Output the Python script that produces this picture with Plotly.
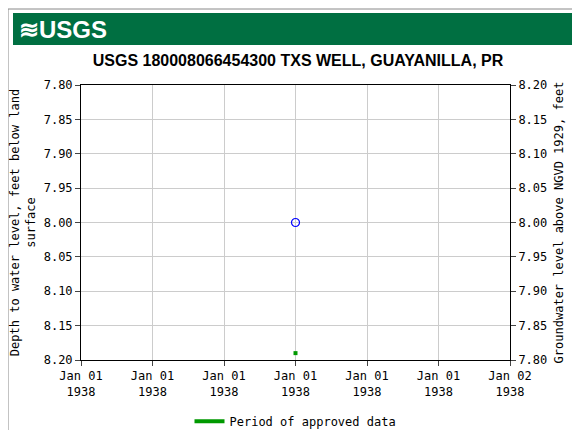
import plotly.graph_objects as go

obs_dates = ["1938-01-01 12:00"]
obs_depth = [8.00]
approved_dates = ["1938-01-01 12:00"]
approved_level = [8.19]
tick_dates = ["1938-01-01 00:00", "1938-01-01 04:00", "1938-01-01 08:00", "1938-01-01 12:00",
              "1938-01-01 16:00", "1938-01-01 20:00", "1938-01-02 00:00"]
tick_labels = ["Jan 01<br>1938"] * 6 + ["Jan 02<br>1938"]
left_ticks = [7.80, 7.85, 7.90, 7.95, 8.00, 8.05, 8.10, 8.15, 8.20]
right_ticks = [7.80, 7.85, 7.90, 7.95, 8.00, 8.05, 8.10, 8.15, 8.20]

mono = dict(family="DejaVu Sans Mono", size=12, color="black")
fig = go.Figure()
fig.add_trace(go.Scatter(x=obs_dates, y=obs_depth, mode="markers",
                         marker=dict(symbol="circle-open", size=8, color="#0000ff", line=dict(width=1.2)),
                         showlegend=False))
fig.add_trace(go.Scatter(x=approved_dates, y=approved_level, mode="markers",
                         marker=dict(symbol="square", size=4, color="#009900"),
                         showlegend=False))
fig.add_trace(go.Scatter(x=[None], y=[None], mode="lines", line=dict(color="#009900", width=4),
                         name="Period of approved data"))
fig.add_trace(go.Scatter(x=[None], y=[None], yaxis="y2", showlegend=False))

fig.update_layout(
    width=580, height=430, paper_bgcolor="white", plot_bgcolor="white",
    margin=dict(l=73, r=78, t=77, b=78, autoexpand=False),
    title=dict(text="<b>USGS 180008066454300 TXS WELL, GUAYANILLA, PR</b>", x=0.5, xanchor="center",
               y=0.877, yanchor="middle",
               font=dict(family="Liberation Sans Narrow, Liberation Sans", size=16, color="black")),
    xaxis=dict(range=[tick_dates[0], tick_dates[-1]], tickvals=tick_dates, ticktext=tick_labels,
               showgrid=True, gridcolor="#cccccc", showline=True, linecolor="black", mirror=True,
               ticks="outside", tickfont=mono, automargin=False),
    yaxis=dict(range=[8.20, 7.80], tickvals=left_ticks, ticktext=[f"{v:.2f}" for v in left_ticks],
               showgrid=True, gridcolor="#cccccc", showline=True, linecolor="black", mirror=True,
               ticks="outside", tickfont=mono, automargin=False, title_standoff=8,
               title=dict(text="Depth to water level, feet below land<br>surface", font=mono)),
    yaxis2=dict(range=[7.80, 8.20], overlaying="y", side="right", tickvals=right_ticks,
                ticktext=[f"{v:.2f}" for v in right_ticks], ticks="outside", tickfont=mono, showgrid=False,
                automargin=False, title_standoff=8,
                title=dict(text="Groundwater level above NGVD 1929, feet", font=mono)),
    legend=dict(orientation="h", x=0.5, xanchor="center", y=-0.17, yanchor="top", font=mono),
    shapes=[
        dict(type="rect", xref="paper", yref="paper", x0=-73/429, x1=1+77/429, y0=-78/275, y1=1+76/275,
             line=dict(color="#888888", width=1), fillcolor="rgba(0,0,0,0)", layer="below"),
        dict(type="rect", xref="paper", yref="paper", x0=-68/429, x1=1+73/429, y0=1+40/275, y1=1+72/275,
             line=dict(width=0), fillcolor="#006F41"),
    ],
    annotations=[dict(text="<b>≋USGS</b>", xref="paper", yref="paper", x=-64/429, y=1+56/275,
                      xanchor="left", yanchor="middle", showarrow=False,
                      font=dict(family="Liberation Sans", size=24, color="white"))],
)
fig.write_html("out.html")
